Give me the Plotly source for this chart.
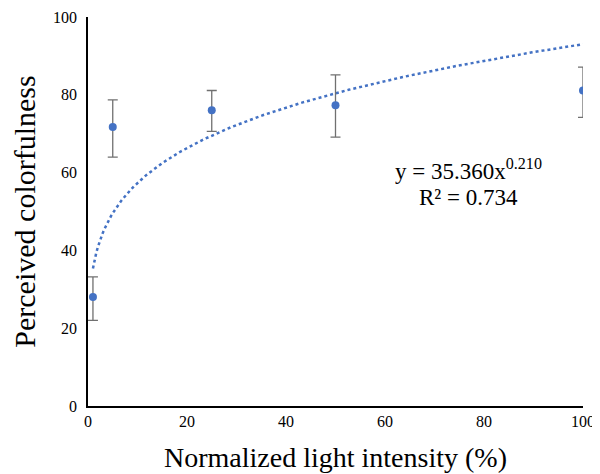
import numpy as np
import plotly.graph_objects as go

# datos
intensidad = [1, 5, 25, 50, 100]
colorido = [28.0, 71.7, 76.0, 77.3, 81.1]
err_sup = [5.2, 7.0, 5.1, 7.8, 6.0]
err_inf = [6.0, 7.7, 5.4, 8.2, 6.9]

# ajuste potencial mostrado en el grafico
coef_a = 35.360
coef_b = 0.210
x_ajuste = np.linspace(1, 100, 300)
y_ajuste = coef_a * x_ajuste ** coef_b

fuente = 'Liberation Serif, Times New Roman, serif'

fig = go.Figure()
fig.add_trace(go.Scatter(
    x=x_ajuste, y=y_ajuste, mode='lines',
    line=dict(color='#4472C4', width=2.5, dash='dot'),
    hoverinfo='skip'))
fig.add_trace(go.Scatter(
    x=intensidad, y=colorido, mode='markers',
    marker=dict(color='#4472C4', size=8),
    error_y=dict(type='data', symmetric=False, array=err_sup, arrayminus=err_inf,
                 color='#707070', thickness=1.3, width=5)))

fig.add_annotation(x=0.768, y=0.607, xref='paper', yref='paper', showarrow=False,
                   xanchor='center', yanchor='middle',
                   text='y = 35.360x<sup style="font-size:14px">0.210</sup>',
                   font=dict(family=fuente, size=23, color='black'))
fig.add_annotation(x=0.768, y=0.537, xref='paper', yref='paper', showarrow=False,
                   xanchor='center', yanchor='middle',
                   text='R² = 0.734', font=dict(family=fuente, size=23, color='black'))

# la pagina tiene un margen de 8px en el body
fig.update_layout(
    width=600, height=474,
    margin=dict(l=80, r=25, t=9, b=76),
    plot_bgcolor='white', paper_bgcolor='white',
    showlegend=False,
    font=dict(family=fuente, color='black'),
    xaxis=dict(range=[0, 100], tickvals=[0, 20, 40, 60, 80, 100], automargin=False,
               showgrid=False, zeroline=False, showline=True, linecolor='black', linewidth=1.5,
               ticks='', tickfont=dict(size=16),
               title=dict(text='Normalized light intensity (%)', font=dict(size=28), standoff=18)),
    yaxis=dict(range=[0, 100], tickvals=[0, 20, 40, 60, 80, 100], automargin=False,
               showgrid=False, zeroline=False, showline=True, linecolor='black', linewidth=1.5,
               ticks='', tickfont=dict(size=16), ticklabelstandoff=6,
               title=dict(text='Perceived colorfulness', font=dict(size=30), standoff=9)),
)

fig.write_html('out.html')
